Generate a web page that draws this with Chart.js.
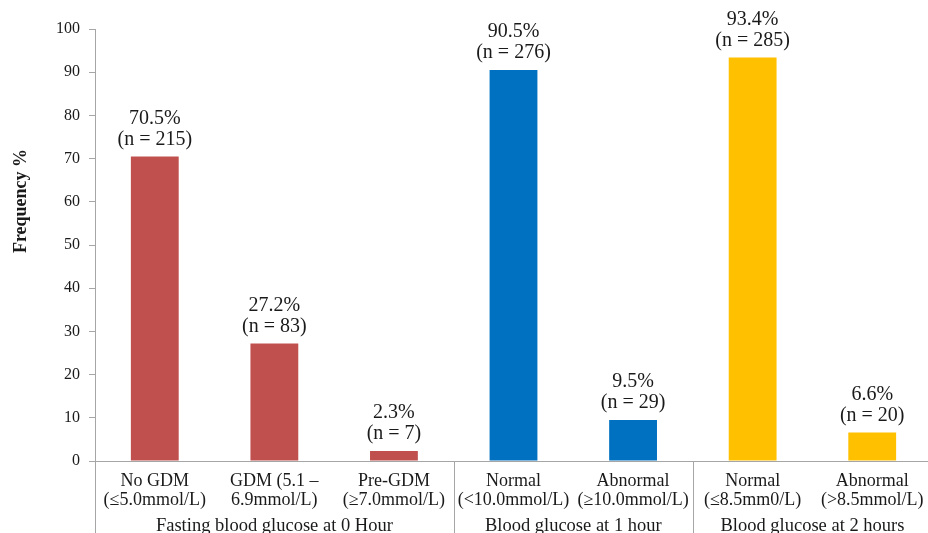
<!DOCTYPE html>
<html>
<head>
<meta charset="utf-8">
<script src="https://cdn.jsdelivr.net/npm/chart.js@4/dist/chart.umd.min.js"></script>
<style>
  html, body { margin: 0; padding: 0; background: #ffffff; overflow: hidden; }
  #wrap { width: 936px; height: 533px; }
</style>
</head>
<body>
<div id="wrap"><canvas id="chart" width="936" height="533"></canvas></div>
<script>
// Glucose test categories (two-line axis labels)
const categories = [
  ["No GDM", "(≤5.0mmol/L)"],
  ["GDM (5.1 –", "6.9mmol/L)"],
  ["Pre-GDM", "(≥7.0mmol/L)"],
  ["Normal", "(<10.0mmol/L)"],
  ["Abnormal", "(≥10.0mmol/L)"],
  ["Normal", "(≤8.5mm0/L)"],
  ["Abnormal", "(>8.5mmol/L)"]
];
// Share of women in each category (%) and head counts
const percentages = [70.5, 27.2, 2.3, 90.5, 9.5, 93.4, 6.6];
const counts = [215, 83, 7, 276, 29, 285, 20];
// Test time-point groups and how many categories each spans
const groups = ["Fasting blood glucose at 0 Hour", "Blood glucose at 1 hour", "Blood glucose at 2 hours"];
const groupSizes = [3, 2, 2];
const groupColors = ["#C0504D", "#0070C0", "#FFC000"];
const yTicks = [0, 10, 20, 30, 40, 50, 60, 70, 80, 90, 100];

const barColors = [];
groupSizes.forEach((n, g) => { for (let i = 0; i < n; i++) barColors.push(groupColors[g]); });

const SERIF = "'Liberation Serif', 'Times New Roman', serif";
const TEXT = "#1a1a1a";
const AXIS = "#a6a6a6";

// Percent and count above each bar
const barLabels = {
  id: "barLabels",
  afterDatasetsDraw(chart) {
    const ctx = chart.ctx;
    const meta = chart.getDatasetMeta(0);
    ctx.save();
    ctx.font = "20px " + SERIF;
    ctx.fillStyle = TEXT;
    ctx.textAlign = "center";
    ctx.textBaseline = "middle";
    meta.data.forEach((bar, i) => {
      ctx.fillText(percentages[i] + "%", bar.x, bar.y - 38);
      ctx.fillText("(n = " + counts[i] + ")", bar.x, bar.y - 17);
    });
    ctx.restore();
  }
};

// Group captions, separators under the axis, and the rotated axis title
const groupAxis = {
  id: "groupAxis",
  afterDraw(chart) {
    const ctx = chart.ctx;
    const x = chart.scales.x;
    const area = chart.chartArea;
    const bottom = chart.height;
    ctx.save();
    ctx.strokeStyle = AXIS;
    ctx.lineWidth = 1;
    // left axis continues down through the label band
    const lines = [area.left];
    let start = 0;
    groupSizes.forEach((n, g) => {
      const end = start + n - 1;
      if (g > 0) lines.push(Math.round((x.getPixelForValue(start - 1) + x.getPixelForValue(start)) / 2));
      const cx = (x.getPixelForValue(start) + x.getPixelForValue(end)) / 2;
      ctx.font = "18.5px " + SERIF;
      ctx.fillStyle = TEXT;
      ctx.textAlign = "center";
      ctx.textBaseline = "middle";
      ctx.fillText(groups[g], cx, 526);
      start += n;
    });
    lines.forEach(px => {
      ctx.beginPath();
      ctx.moveTo(px + 0.5, area.bottom);
      ctx.lineTo(px + 0.5, bottom);
      ctx.stroke();
    });
    // y axis title
    ctx.translate(21, 201);
    ctx.rotate(-Math.PI / 2);
    ctx.font = "bold 18px " + SERIF;
    ctx.fillStyle = TEXT;
    ctx.textAlign = "center";
    ctx.textBaseline = "middle";
    ctx.fillText("Frequency %", 0, 0);
    ctx.restore();
  }
};

new Chart(document.getElementById("chart"), {
  type: "bar",
  data: {
    labels: categories,
    datasets: [{
      data: percentages,
      backgroundColor: barColors,
      borderWidth: 0,
      barPercentage: 0.4,
      categoryPercentage: 1.0
    }]
  },
  options: {
    responsive: false,
    animation: false,
    devicePixelRatio: 1,
    layout: { padding: { top: 29, right: 4, bottom: 0, left: 0 } },
    plugins: { legend: { display: false }, tooltip: { enabled: false } },
    scales: {
      x: {
        grid: { display: false, drawTicks: false },
        border: { display: true, color: AXIS, width: 1 },
        ticks: {
          font: { family: SERIF, size: 18, lineHeight: 1.1 },
          color: TEXT,
          padding: 10,
          maxRotation: 0,
          autoSkip: false
        },
        afterFit(s) { s.height = 72; }
      },
      y: {
        min: 0,
        max: 100,
        afterBuildTicks(s) { s.ticks = yTicks.map(v => ({ value: v })); },
        grid: { display: true, drawOnChartArea: false, drawTicks: true, tickLength: 6, color: AXIS },
        border: { display: true, color: AXIS, width: 1 },
        ticks: {
          font: { family: SERIF, size: 16 },
          color: TEXT,
          padding: 9
        },
        afterFit(s) { s.width = 95; }
      }
    }
  },
  plugins: [barLabels, groupAxis]
});
</script>
</body>
</html>
